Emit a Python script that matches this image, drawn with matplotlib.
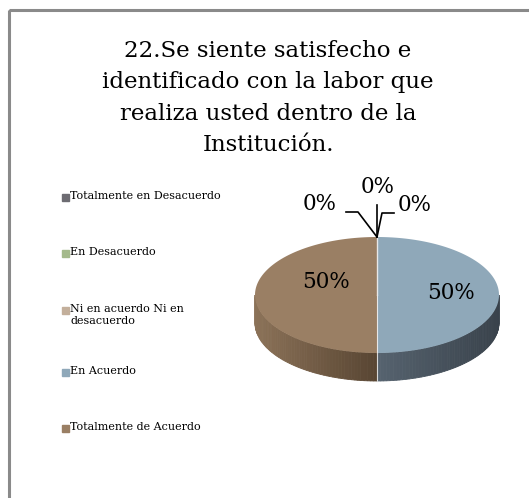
import numpy as np
import matplotlib
matplotlib.use("Agg")
import matplotlib.pyplot as plt
from matplotlib.patches import Polygon, Rectangle
from matplotlib.colors import to_rgb

# data
title = "22.Se siente satisfecho e\nidentificado con la labor que\nrealiza usted dentro de la\nInstitución."
categories = ["Totalmente en Desacuerdo", "En Desacuerdo",
              "Ni en acuerdo Ni en\ndesacuerdo", "En Acuerdo",
              "Totalmente de Acuerdo"]
values = [0, 0, 0, 50, 50]
colors = ["#6d6c72", "#a4b98b", "#c3af9b", "#8fa8b9", "#9a7f64"]
side_light = ["#6d6c72", "#a4b98b", "#c3af9b", "#56636f", "#8b7258"]
side_dark = ["#4a4950", "#6f7d5e", "#8a7a6a", "#39424b", "#584532"]

serif = ["DejaVu Serif"]

fig = plt.figure(figsize=(5.29, 4.98), dpi=100)
ax = fig.add_axes([0, 0, 1, 1])
ax.set_xlim(0, 529)
ax.set_ylim(498, 0)
ax.axis("off")

# chart frame
ax.add_patch(Rectangle((9, 10), 540, 520, fill=False, edgecolor="#8a8a8a", lw=2.2))

ax.text(268, 98, title, ha="center", va="center", fontsize=16.5,
        family=serif, linespacing=1.55)

# legend
leg_y = [197, 253, 316, 372, 428]
for lab, col, y in zip(categories, colors, leg_y):
    n = lab.count("\n")
    ax.add_patch(Rectangle((62, y - 3.5 - n * 6), 7, 7, color=col))
    ax.text(70.5, y - n * 6 - 6, lab, ha="left", va="top",
            fontsize=8.0, family=serif, linespacing=1.25)

# 3d pie
cx, cy, a, b, depth = 377, 295, 122, 58, 28
total = float(sum(values))

def pt(t):
    return cx + a * np.sin(t), cy - b * np.cos(t)

start = 0.0
mids = []
for v, col, cl, cd in zip(values, colors, side_light, side_dark):
    t0 = start
    t1 = start + 2 * np.pi * v / total
    start = t1
    mids.append((t0, t1))
    if v == 0:
        continue
    # side wall, front half only
    s0 = max(t0, np.pi / 2)
    s1 = min(t1, 3 * np.pi / 2)
    if s1 > s0:
        ts = np.linspace(s0, s1, 60)
        c1 = np.array(to_rgb(cl))
        c2 = np.array(to_rgb(cd))
        for i in range(len(ts) - 1):
            xa, ya = pt(ts[i])
            xb, yb = pt(ts[i + 1])
            xm = (xa + xb) / 2
            f = abs(xm - cx) / a
            # left half gets lighter to the outside, right half darker
            if xm < cx:
                c = c2 + (c1 - c2) * f
            else:
                c = c1 + (c2 - c1) * f
            ax.add_patch(Polygon([(xa, ya), (xb, yb), (xb, yb + depth), (xa, ya + depth)],
                                 closed=True, facecolor=c, edgecolor=c, lw=0.6, zorder=2))
    ts = np.linspace(t0, t1, 120)
    verts = [(cx, cy)] + [pt(t) for t in ts]
    ax.add_patch(Polygon(verts, closed=True, facecolor=col, edgecolor="none", zorder=3))

# divider lines between slices
for t0, t1 in mids:
    x, y = pt(t0)
    ax.plot([cx, x], [cy, y], color="#e8e8e8", lw=0.8, zorder=4)
    if np.pi / 2 <= t0 <= 3 * np.pi / 2:
        ax.plot([x, x], [y, y + depth], color="#d8d8d8", lw=0.8, zorder=4)

# percentage labels
fs = 15.5
pct = [f"{round(100 * v / total)}%" for v in values]
ax.text(326, 282, pct[4], ha="center", va="center", fontsize=fs, family=serif, zorder=5)
ax.text(451, 293, pct[3], ha="center", va="center", fontsize=fs, family=serif, zorder=5)

# leader lines for the zero slices
apex = pt(0)
ax.plot([346, 358, apex[0]], [212, 212, apex[1]], color="black", lw=1.2, zorder=5)
ax.plot([apex[0], apex[0]], [205, apex[1]], color="black", lw=1.2, zorder=5)
ax.plot([apex[0], 382, 394], [apex[1], 213, 213], color="black", lw=1.2, zorder=5)
ax.text(320, 204, pct[0], ha="center", va="center", fontsize=fs, family=serif, zorder=5)
ax.text(378, 187, pct[1], ha="center", va="center", fontsize=fs, family=serif, zorder=5)
ax.text(415, 205, pct[2], ha="center", va="center", fontsize=fs, family=serif, zorder=5)

fig.savefig("out.png", dpi=100)
